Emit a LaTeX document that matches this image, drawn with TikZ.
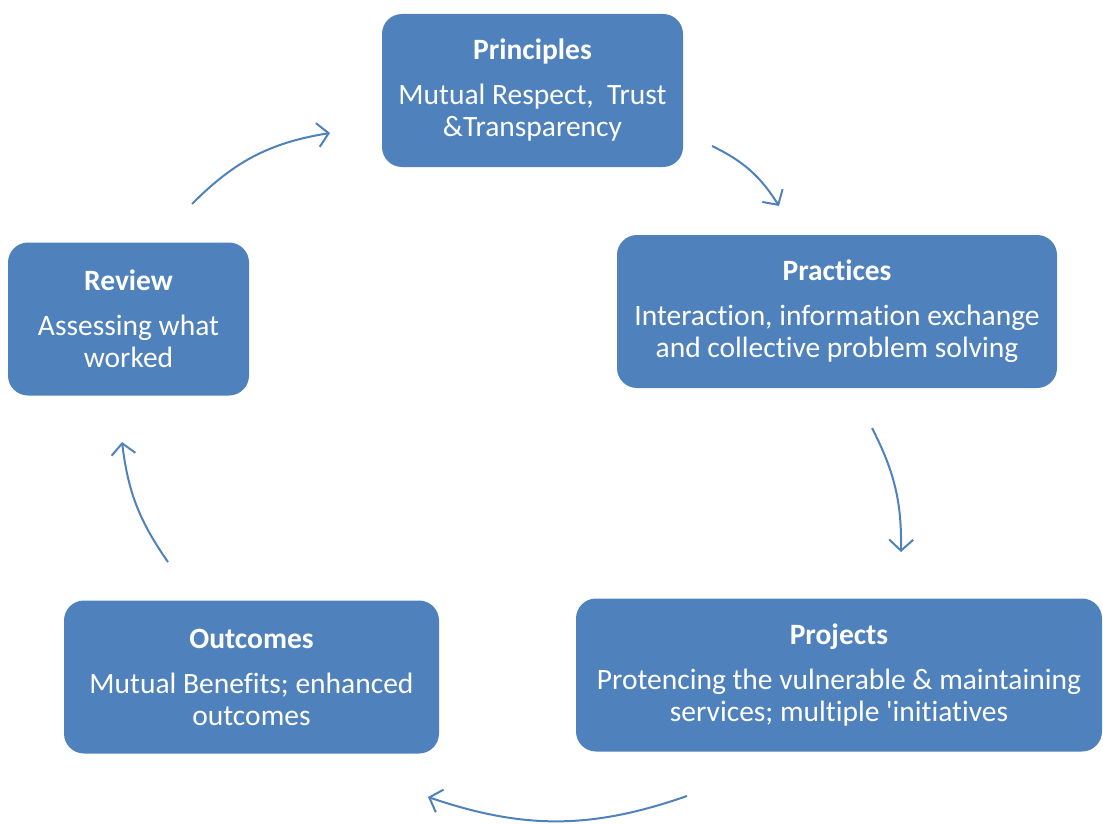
\documentclass[tikz,border=0pt]{standalone}
\usepackage{fontspec}
\setmainfont{Carlito}[Ligatures={ResetAll,NoCommon}]
\newfontfamily\plainquote{Carlito}
\usetikzlibrary{arrows.meta}
\definecolor{boxblue}{RGB}{79,129,189}

\begin{document}
\begin{tikzpicture}[x=1pt,y=-1pt,
	stage/.style={fill=boxblue, rounded corners=20pt, text=white, align=center,
		inner sep=0pt, minimum height=153pt, font=\fontsize{29.5}{32}\selectfont},
	cycle/.style={draw=boxblue, line width=2pt, -{Straight Barb[length=11pt,width=24pt]}, bend left=#1}]
	\useasboundingbox (0,0) rectangle (1103,824);
	% the five stages
	\node[stage, minimum width=301pt] (principles) at (532.5,90.5)
		{\textbf{Principles}\\[13pt] Mutual Respect,\ \ Trust\\ \&Transparency};
	\node[stage, minimum width=440pt] (practices) at (837,311.5)
		{\textbf{Practices}\\[13pt] Interaction, information exchange\\ and collective problem solving};
	\node[stage, minimum width=526pt] (projects) at (839,675)
		{\textbf{Projects}\\[13pt] Protencing the vulnerable \& maintaining\\ services; multiple {\plainquote\symbol{39}}initiatives};
	\node[stage, minimum width=375pt] (outcomes) at (251.5,677)
		{\textbf{Outcomes}\\[13pt] Mutual Benefits; enhanced\\ outcomes};
	\node[stage, minimum width=241pt] (review) at (128.5,319)
		{\textbf{Review}\\[13pt] Assessing what\\ worked};
	% arrow ends
	\coordinate (rev-out) at (192,204);
	\coordinate (pri-in) at (330,133);
	\coordinate (pri-out) at (712,146);
	\coordinate (pra-in) at (779,206);
	\coordinate (pra-out) at (872,428);
	\coordinate (pro-in) at (901,552);
	\coordinate (pro-out) at (687,796);
	\coordinate (out-in) at (428,797);
	\coordinate (out-out) at (168,562);
	\coordinate (rev-in) at (122,442);
	\draw[cycle=18] (rev-out) to (pri-in);
	\draw[cycle=16] (pri-out) to (pra-in);
	\draw[cycle=14] (pra-out) to (pro-in);
	\draw[cycle=19] (pro-out) to (out-in);
	\draw[cycle=14] (out-out) to (rev-in);
\end{tikzpicture}
\end{document}
